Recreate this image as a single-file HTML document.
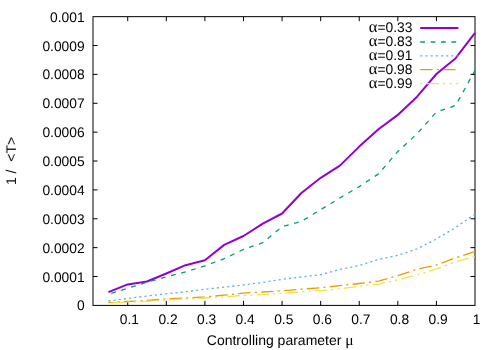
<!DOCTYPE html>
<html><head><meta charset="utf-8"><title>plot</title>
<style>html,body{margin:0;padding:0;background:#fff;}svg{display:block;}text{text-rendering:geometricPrecision;font-family:"Liberation Sans",sans-serif;font-size:13.8px;fill:#000;}.sym{font-family:"Liberation Serif",serif;font-size:16.5px;}.mu{font-family:"Liberation Serif",serif;font-size:15.5px;}.ax{font-size:14px;}</style></head><body>
<svg width="500" height="350" viewBox="0 0 500 350">
<defs><filter id="g" x="0" y="0" width="500" height="350" filterUnits="userSpaceOnUse"><feOffset dx="0" dy="0"/></filter></defs>
<rect width="500" height="350" fill="#fff"/>
<path d="M93.0,276.52h4.5M475.0,276.52h-4.5M93.0,247.65h4.5M475.0,247.65h-4.5M93.0,218.77h4.5M475.0,218.77h-4.5M93.0,189.90h4.5M475.0,189.90h-4.5M93.0,161.02h4.5M475.0,161.02h-4.5M93.0,132.15h4.5M475.0,132.15h-4.5M93.0,103.27h4.5M475.0,103.27h-4.5M93.0,74.40h4.5M475.0,74.40h-4.5M93.0,45.52h4.5M475.0,45.52h-4.5M127.73,305.4v-4.5M127.73,16.65v4.5M166.31,305.4v-4.5M166.31,16.65v4.5M204.90,305.4v-4.5M204.90,16.65v4.5M243.48,305.4v-4.5M243.48,16.65v4.5M282.07,305.4v-4.5M282.07,16.65v4.5M320.66,305.4v-4.5M320.66,16.65v4.5M359.24,305.4v-4.5M359.24,16.65v4.5M397.83,305.4v-4.5M397.83,16.65v4.5M436.41,305.4v-4.5M436.41,16.65v4.5" stroke="#000" stroke-width="1" fill="none"/>
<rect x="93.0" y="16.65" width="382.0" height="288.75" fill="none" stroke="#000" stroke-width="1"/>
<polyline points="108.4,292.1 127.7,284.4 147.0,281.5 166.3,273.5 185.6,265.2 204.9,260.3 224.2,244.9 243.5,236.0 262.8,223.6 282.1,213.5 301.4,193.0 320.7,177.8 339.9,165.6 359.2,146.6 378.5,129.3 397.8,114.9 417.1,96.7 436.4,74.0 455.7,58.2 475.0,32.9" fill="none" stroke="#9400d3" stroke-width="2" stroke-linejoin="round"/>
<path d="M420.2,28.00H458.4" stroke="#9400d3" stroke-width="2" fill="none"/>
<polyline points="108.4,294.3 127.7,288.3 147.0,282.3 166.3,276.9 185.6,271.9 204.9,265.9 224.2,258.7 243.5,249.3 262.8,242.7 282.1,226.7 301.4,221.4 320.7,209.7 339.9,197.9 359.2,186.6 378.5,173.9 397.8,151.5 417.1,133.7 436.4,112.1 455.7,105.4 475.0,70.4" fill="none" stroke="#009e73" stroke-width="1.3" stroke-linejoin="round" stroke-dasharray="4.8 5.6" stroke-dashoffset="-3.0"/>
<path d="M420.2,42.00H458.4" stroke="#009e73" stroke-width="1.3" fill="none" stroke-dasharray="4.8 5.6" stroke-dashoffset="0"/>
<polyline points="108.4,301.0 127.7,298.5 147.0,296.0 166.3,293.8 185.6,291.7 204.9,289.2 224.2,287.2 243.5,284.9 262.8,282.5 282.1,279.3 301.4,277.0 320.7,274.6 339.9,269.4 359.2,265.6 378.5,259.4 397.8,255.4 417.1,248.8 436.4,239.0 455.7,227.5 475.0,214.1" fill="none" stroke="#56b4e9" stroke-width="1.3" stroke-linejoin="round" stroke-dasharray="2.1 3.1" stroke-dashoffset="0"/>
<path d="M420.2,55.80H458.4" stroke="#56b4e9" stroke-width="1.3" fill="none" stroke-dasharray="2.1 3.1" stroke-dashoffset="0"/>
<polyline points="108.4,302.7 127.7,301.5 147.0,300.5 166.3,298.9 185.6,298.0 204.9,297.0 224.2,295.2 243.5,293.1 262.8,292.0 282.1,290.8 301.4,289.2 320.7,287.7 339.9,285.7 359.2,283.5 378.5,281.1 397.8,275.6 417.1,269.2 436.4,265.0 455.7,257.8 475.0,251.4" fill="none" stroke="#e69f00" stroke-width="1.3" stroke-linejoin="round" stroke-dasharray="12.4 4.1 2.2 4.25" stroke-dashoffset="7.45"/>
<path d="M420.2,69.65H458.4" stroke="#e69f00" stroke-width="1.3" fill="none" stroke-dasharray="12.4 4.1 2.2 4.25" stroke-dashoffset="0"/>
<polyline points="108.4,303.1 127.7,302.1 147.0,301.3 166.3,300.1 185.6,299.0 204.9,298.0 224.2,296.8 243.5,295.4 262.8,294.6 282.1,293.4 301.4,291.8 320.7,290.6 339.9,289.0 359.2,286.2 378.5,284.2 397.8,279.7 417.1,275.0 436.4,268.8 455.7,261.9 475.0,256.5" fill="none" stroke="#f0e442" stroke-width="1.3" stroke-linejoin="round" stroke-dasharray="12.4 3.95 2.25 4.15 2.25 4.15" stroke-dashoffset="-2.7"/>
<path d="M420.2,83.60H458.4" stroke="#f0e442" stroke-width="1.3" fill="none" stroke-dasharray="12.4 3.95 2.25 4.15 2.25 4.15" stroke-dashoffset="22.75"/>
<g filter="url(#g)">
<text x="84.6" y="309.70" text-anchor="end">0</text>
<text x="84.6" y="281.70" text-anchor="end">0.0001</text>
<text x="84.6" y="252.70" text-anchor="end">0.0002</text>
<text x="84.6" y="223.70" text-anchor="end">0.0003</text>
<text x="84.6" y="194.70" text-anchor="end">0.0004</text>
<text x="84.6" y="165.70" text-anchor="end">0.0005</text>
<text x="84.6" y="136.70" text-anchor="end">0.0006</text>
<text x="84.6" y="107.70" text-anchor="end">0.0007</text>
<text x="84.6" y="78.70" text-anchor="end">0.0008</text>
<text x="84.6" y="50.70" text-anchor="end">0.0009</text>
<text x="84.6" y="21.70" text-anchor="end">0.001</text>
<text x="129.43" y="324.2" text-anchor="middle">0.1</text>
<text x="168.01" y="324.2" text-anchor="middle">0.2</text>
<text x="206.60" y="324.2" text-anchor="middle">0.3</text>
<text x="245.18" y="324.2" text-anchor="middle">0.4</text>
<text x="283.77" y="324.2" text-anchor="middle">0.5</text>
<text x="322.36" y="324.2" text-anchor="middle">0.6</text>
<text x="360.94" y="324.2" text-anchor="middle">0.7</text>
<text x="399.53" y="324.2" text-anchor="middle">0.8</text>
<text x="438.11" y="324.2" text-anchor="middle">0.9</text>
<text x="476.70" y="324.2" text-anchor="middle">1</text>
<text x="412.4" y="32.10" text-anchor="end"><tspan class="sym">α</tspan>=0.33</text>
<text x="412.4" y="46.10" text-anchor="end"><tspan class="sym">α</tspan>=0.83</text>
<text x="412.4" y="59.90" text-anchor="end"><tspan class="sym">α</tspan>=0.91</text>
<text x="412.4" y="73.75" text-anchor="end"><tspan class="sym">α</tspan>=0.98</text>
<text x="412.4" y="87.70" text-anchor="end"><tspan class="sym">α</tspan>=0.99</text>
<text class="ax" x="206.8" y="345.2">Controlling parameter <tspan class="mu">μ</tspan></text>
<text class="ax" transform="translate(15.9,161.0) rotate(-90)" text-anchor="middle" xml:space="preserve">1 /  &lt;T&gt;</text>
</g>
</svg></body></html>
